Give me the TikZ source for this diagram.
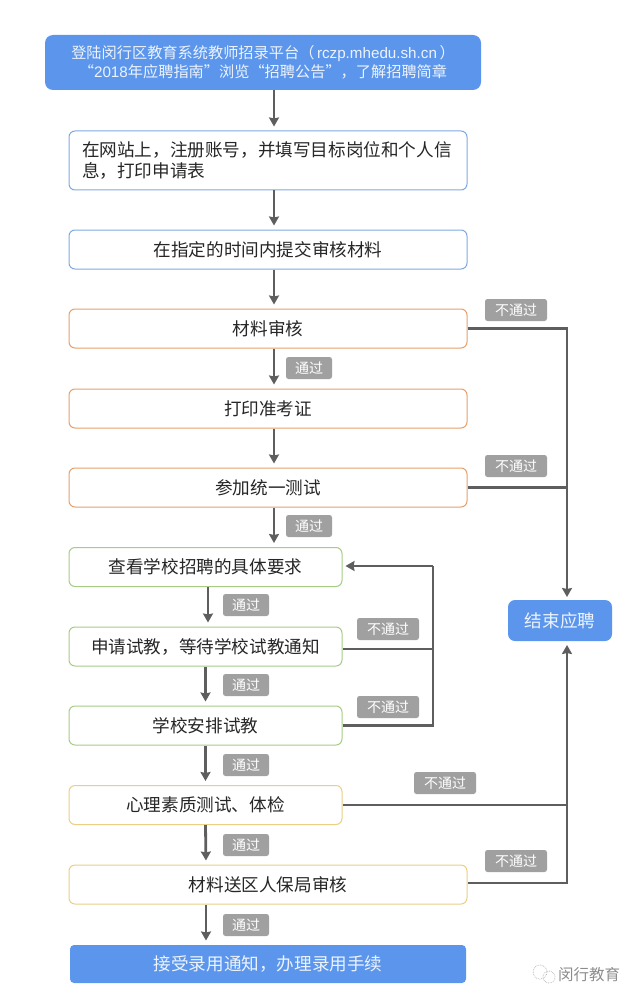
\documentclass[tikz,border=0pt]{standalone}
\usepackage{fontspec}
\setmainfont{Noto Sans CJK SC}
\newfontfamily\latinfont{Liberation Sans}
\usetikzlibrary{arrows.meta}
\definecolor{skyfill}{HTML}{5B96EC}
\definecolor{skyline}{HTML}{7FA9DE}
\definecolor{orangeline}{HTML}{E5A06C}
\definecolor{greenline}{HTML}{A6CC86}
\definecolor{yellowline}{HTML}{EBCF85}
\definecolor{tagfill}{HTML}{A0A0A0}
\definecolor{flowline}{HTML}{5E5E5E}
\definecolor{softwhite}{HTML}{EDF3FC}
\tikzset{
  stage/.style={rectangle,rounded corners=6pt,line width=1pt,fill=white,inner sep=0pt,
    font=\fontsize{17.6}{21}\selectfont,text=black!85,align=center},
  wide/.style={stage,minimum width=398pt,minimum height=39pt},
  narrow/.style={stage,minimum width=273pt,minimum height=39pt},
  solid blue/.style={fill=skyfill,draw=none,text=softwhite},
  passtag/.style={rectangle,rounded corners=2.5pt,fill=tagfill,text=white,inner sep=0pt,
    minimum width=46pt,minimum height=22pt,font=\fontsize{14}{15}\selectfont},
  failtag/.style={passtag,minimum width=62pt},
  flow/.style={draw=flowline,line width=2.8pt,-{Stealth[length=9pt,width=10pt,inset=1pt]}},
  branch/.style={draw=flowline,line width=2.8pt}
}
\begin{document}
\begin{tikzpicture}[x=1pt,y=-1pt]
  \useasboundingbox (0,0) rectangle (640,1003);
  \draw
    (263,62.5) node[stage,solid blue,minimum width=436pt,minimum height=55pt,rounded corners=8pt,
      font=\fontsize{15.2}{19}\selectfont] (login){登陆闵行区教育系统教师招录平台（{\latinfont\,rczp.mhedu.sh.cn\,}）\\“{\latinfont 2018}年应聘指南”浏览“招聘公告”，了解招聘简章}
    (268,160.5) node[wide,draw=skyline,minimum height=59pt,align=left,text width=372pt] (register){在网站上，注册账号，并填写目标岗位和个人信\\息，打印申请表}
    (268,249.5) node[wide,draw=skyline] (submit){在指定的时间内提交审核材料}
    (268,328.5) node[wide,draw=orangeline] (review){材料审核}
    (268,408.5) node[wide,draw=orangeline] (ticket){打印准考证}
    (268,487.5) node[wide,draw=orangeline] (exam){参加统一测试}
    (205.5,567) node[narrow,draw=greenline] (needs){查看学校招聘的具体要求}
    (205.5,646.5) node[narrow,draw=greenline] (apply){申请试教，等待学校试教通知}
    (205.5,725.5) node[narrow,draw=greenline] (trial){学校安排试教}
    (205.5,805) node[narrow,draw=yellowline] (health){心理素质测试、体检}
    (268,884.5) node[wide,draw=yellowline] (bureau){材料送区人保局审核}
    (268,964) node[wide,solid blue,rounded corners=4pt,minimum width=396pt,minimum height=38pt] (offer){接受录用通知，办理录用手续}
    (560,620.5) node[stage,solid blue,minimum width=104pt,minimum height=41pt,rounded corners=7pt] (finish){结束应聘};
  \draw
    (309,368) node[passtag] (pass1){通过}
    (309,526) node[passtag] (pass2){通过}
    (246,605) node[passtag] (pass3){通过}
    (246,685) node[passtag] (pass4){通过}
    (246,765) node[passtag] (pass5){通过}
    (246,845) node[passtag] (pass6){通过}
    (246,925) node[passtag] (pass7){通过}
    (516,310) node[failtag] (fail1){不通过}
    (516,466) node[failtag] (fail2){不通过}
    (388,629) node[failtag] (fail3){不通过}
    (388,707) node[failtag] (fail4){不通过}
    (445,783) node[failtag] (fail5){不通过}
    (516,861) node[failtag] (fail6){不通过};
  \coordinate (endtop) at (567,597);
  \coordinate (endbottom) at (567,645);
  \coordinate (retry) at (433,566);
  \begin{scope}[shorten >=4pt]
    \draw[flow] ([xshift=11pt]login.south) to ([xshift=6pt]register.north);
    \draw[flow] ([xshift=6pt]register.south) to ([xshift=6pt]submit.north);
    \draw[flow] ([xshift=6pt]submit.south) to ([xshift=6pt]review.north);
    \draw[flow] ([xshift=6pt]review.south) to ([xshift=6pt]ticket.north);
    \draw[flow] ([xshift=6pt]ticket.south) to ([xshift=6pt]exam.north);
    \draw[flow] ([xshift=6pt]exam.south) to ([xshift=68.5pt]needs.north);
    \draw[flow] ([xshift=2.5pt]needs.south) to ([xshift=2.5pt]apply.north);
    \draw[flow] (apply.south) to (trial.north);
    \draw[flow] (trial.south) to (health.north);
    \draw[flow] (health.south) to ([xshift=-62pt]bureau.north);
    \draw[flow] ([xshift=-62pt]bureau.south) to ([xshift=-62pt]offer.north);
  \end{scope}
  \begin{scope}
    \draw[flow] (review.east) -| (endtop);
    \draw[branch] (exam.east) -- (exam.east -| endtop);
    \draw[branch] (health.east) -- (health.east -| endbottom);
    \draw[flow] ([yshift=1.5pt]bureau.east) -| (endbottom);
    \draw[branch] ([yshift=-2.5pt]apply.east) -- ([yshift=-2.5pt]apply.east -| retry);
    \draw[branch] (trial.east) -| (retry);
    \draw[flow] (retry) -- ([xshift=3pt]retry -| needs.east);
  \end{scope}
  \draw[gray!60,densely dotted,line width=0.7pt] (540,972) circle (7pt);
  \draw[gray!60,densely dotted,line width=0.7pt] (549,977) circle (6pt);
  \draw (589,975) node[font=\fontsize{15.5}{17}\selectfont,text=gray!90] (mark){闵行教育};
\end{tikzpicture}
\end{document}
